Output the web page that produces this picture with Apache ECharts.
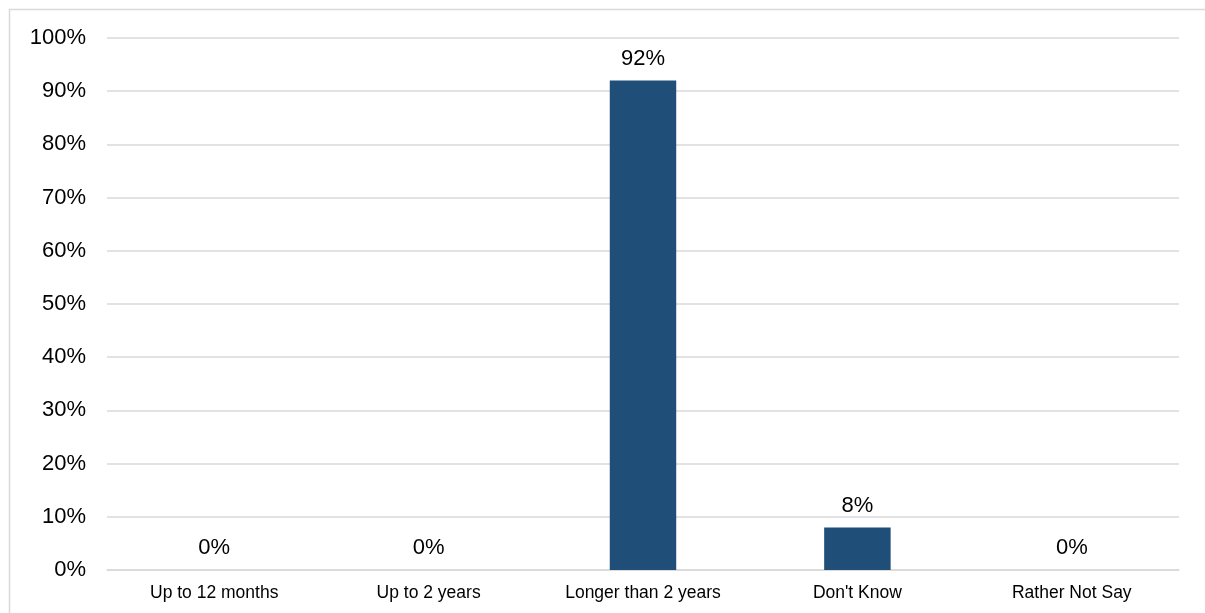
<!DOCTYPE html>
<html>
<head>
<meta charset="utf-8">
<script src="https://cdn.jsdelivr.net/npm/echarts@6/dist/echarts.min.js"></script>
<style>html,body{margin:0;padding:0;background:#fff;}#c{width:1205px;height:613px;}</style>
</head>
<body>
<div id="c"></div>
<script>
var categories = ["Up to 12 months", "Up to 2 years", "Longer than 2 years", "Don't Know", "Rather Not Say"];
var values = [0, 0, 92, 8, 0];
var yTicks = [0, 10, 20, 30, 40, 50, 60, 70, 80, 90, 100];

var chart = echarts.init(document.getElementById('c'));
chart.setOption({
  animation: false,
  textStyle: { fontFamily: 'Liberation Sans, Arial, sans-serif' },
  graphic: [{
    type: 'rect', left: 7, top: 7, z: -1,
    shape: { width: 1220, height: 640 },
    style: { fill: 'none', stroke: '#d9d9d9', lineWidth: 1.5 }
  }],
  grid: { left: 107, right: 26, top: 38, bottom: 43 },
  xAxis: {
    type: 'category', data: categories,
    axisLine: { show: true, lineStyle: { color: '#d9d9d9', width: 1.5 } },
    axisTick: { show: false },
    axisLabel: { color: '#000', fontSize: 17.5, margin: 14, fontFamily: 'Liberation Sans, Arial, sans-serif' }
  },
  yAxis: {
    type: 'value', min: yTicks[0], max: yTicks[yTicks.length - 1], interval: 10,
    axisLine: { show: false }, axisTick: { show: false },
    splitLine: { lineStyle: { color: '#d9d9d9', width: 1.5 } },
    axisLabel: { color: '#000', fontSize: 22, margin: 21, formatter: '{value}%', fontFamily: 'Liberation Sans, Arial, sans-serif' }
  },
  series: [{
    type: 'bar', data: values, barWidth: '31%',
    itemStyle: { color: '#1F4E79' },
    label: { show: true, position: 'top', distance: 11, color: '#000', fontSize: 22, formatter: '{c}%', fontFamily: 'Liberation Sans, Arial, sans-serif' }
  }]
});
</script>
</body>
</html>
